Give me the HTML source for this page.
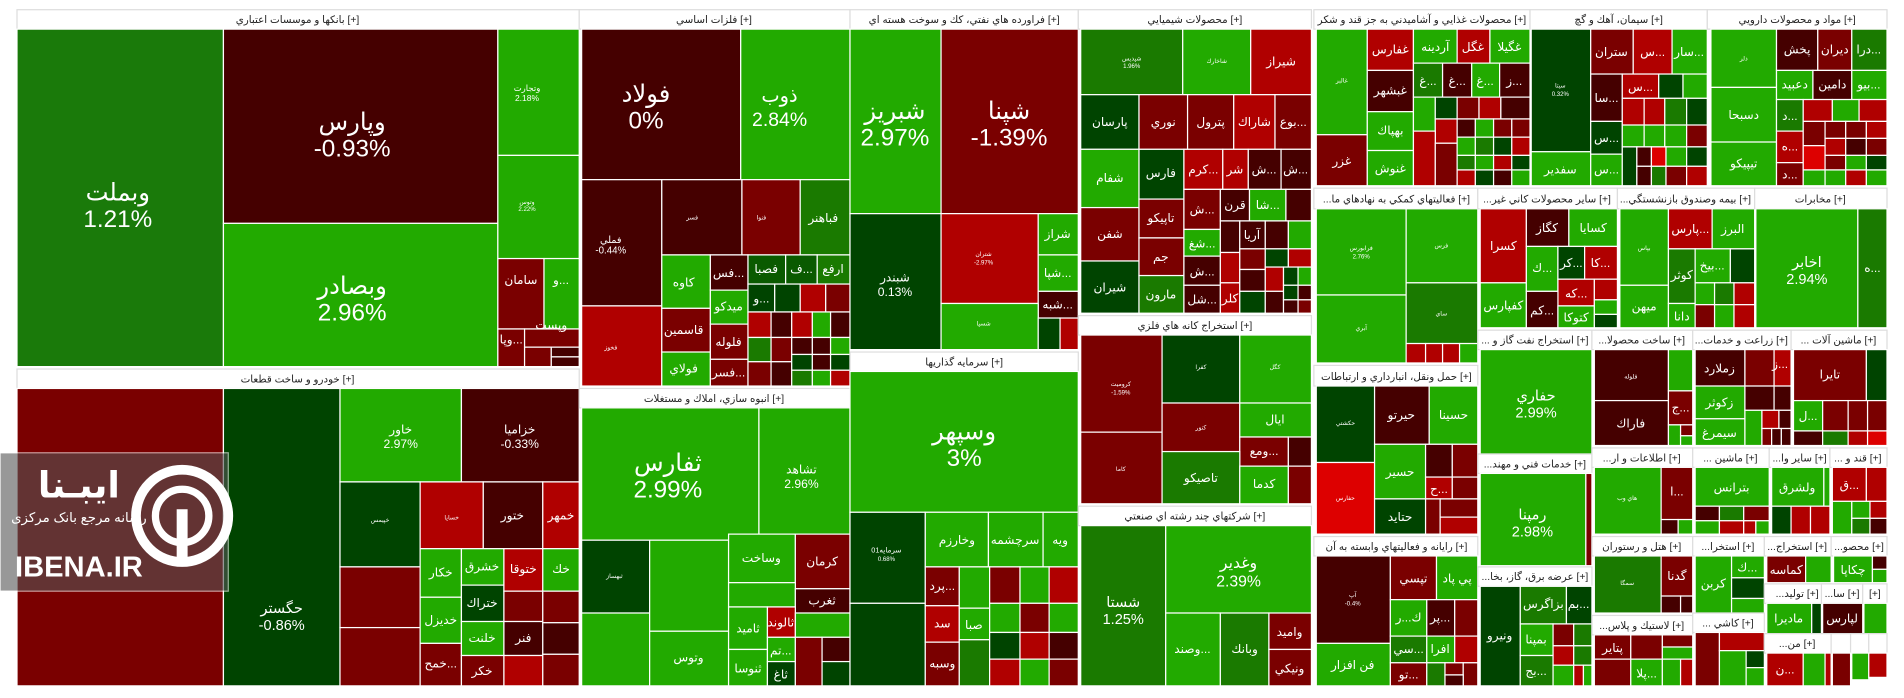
<!DOCTYPE html>
<html><head><meta charset="utf-8"><style>
html,body{margin:0;padding:0;background:#fff;width:1904px;height:698px;overflow:hidden}
svg{display:block}
text{font-family:"Liberation Sans","DejaVu Sans",sans-serif;fill:#fff;text-anchor:middle}
.h{fill:#222;font-size:8.5px}
rect{stroke:#fff;stroke-width:1}
.hd{fill:#fff;stroke:#ddd}
.L{font-size:20px}.m{font-size:10px}.s{font-size:5px}
</style></head><body>
<svg width="1904" height="698" viewBox="0 0 1568 575" preserveAspectRatio="none">
<rect x="0" y="0" width="1568" height="575" fill="#fff" stroke="none"/>
<!-- BANKS -->
<rect class="hd" x="14" y="8" width="463" height="16"/><text class="h" x="245" y="19">بانکها و موسسات اعتباري [+]</text>
<rect x="14" y="24" width="170" height="278" fill="#1a7a0a"/><text class="L" x="97" y="165">وبملت</text><text class="L" x="97" y="187">1.21%</text>
<rect x="184" y="24" width="226" height="160" fill="#450000"/><text class="L" x="290" y="107">وپارس</text><text class="L" x="290" y="129">-0.93%</text>
<rect x="184" y="184" width="226" height="118" fill="#22aa00"/><text class="L" x="290" y="242">وبصادر</text><text class="L" x="290" y="264">2.96%</text>
<rect x="410" y="24" width="67" height="104" fill="#22aa00"/><text class="s" x="434" y="75" style="font-size:7px">وتجارت</text><text class="s" x="434" y="83" style="font-size:7px">2.18%</text>
<rect x="410" y="128" width="67" height="85" fill="#22aa00"/><text class="s" x="434" y="168">وتوس</text><text class="s" x="434" y="174">2.22%</text>
<rect x="410" y="213" width="38" height="58" fill="#7a0000"/><text class="m" x="429" y="234">سامان</text>
<rect x="448" y="213" width="29" height="58" fill="#22aa00"/><text class="m" x="462" y="234">و...</text>
<rect x="410" y="271" width="22" height="31" fill="#7a0000"/><text class="m" x="421" y="283">وپا...</text>
<rect x="432" y="271" width="45" height="15" fill="#7a0000"/><text class="m" x="454" y="271">وپست</text>
<rect x="432" y="286" width="22" height="16" fill="#7a0000"/>
<rect x="454" y="286" width="23" height="8" fill="#450000"/><rect x="454" y="294" width="23" height="8" fill="#450000"/>
<!-- AUTO -->
<rect class="hd" x="14" y="304" width="463" height="16"/><text class="h" x="245" y="315">خودرو و ساخت قطعات [+]</text>
<rect x="14" y="320" width="170" height="245" fill="#7a0000"/>
<rect x="184" y="320" width="96" height="245" fill="#004400"/><text class="m" x="232" y="505" style="font-size:12px">حگستر</text><text class="m" x="232" y="519" style="font-size:12px">-0.86%</text>
<rect x="280" y="320" width="100" height="77" fill="#22aa00"/><text class="m" x="330" y="357">خاور</text><text class="m" x="330" y="369">2.97%</text>
<rect x="380" y="320" width="97" height="77" fill="#450000"/><text class="m" x="428" y="357">خزامیا</text><text class="m" x="428" y="369">-0.33%</text>
<rect x="280" y="397" width="66" height="70" fill="#004400"/><text class="s" x="313" y="430">خپیمس</text>
<rect x="346" y="397" width="52" height="55" fill="#b00000"/><text class="s" x="372" y="428">خساپا</text>
<rect x="398" y="397" width="49" height="55" fill="#450000"/><text class="m" x="422" y="428">ختور</text>
<rect x="447" y="397" width="30" height="55" fill="#b00000"/><text class="m" x="462" y="428">خمهر</text>
<rect x="280" y="467" width="66" height="50" fill="#7a0000"/><rect x="280" y="517" width="66" height="48" fill="#7a0000"/>
<rect x="346" y="452" width="34" height="40" fill="#22aa00"/><text class="m" x="363" y="475">خكار</text>
<rect x="346" y="492" width="34" height="38" fill="#22aa00"/><text class="m" x="363" y="514">خديزل</text>
<rect x="346" y="530" width="34" height="35" fill="#7a0000"/><text class="m" x="363" y="550">خمح...</text>
<rect x="380" y="452" width="35" height="30" fill="#22aa00"/><text class="m" x="397" y="470">خشرق</text>
<rect x="380" y="482" width="35" height="30" fill="#004400"/><text class="m" x="397" y="500">ختراك</text>
<rect x="380" y="512" width="35" height="28" fill="#22aa00"/><text class="m" x="397" y="529">خلنت</text>
<rect x="380" y="540" width="35" height="25" fill="#7a0000"/><text class="m" x="397" y="556">خكر</text>
<rect x="415" y="452" width="32" height="35" fill="#b00000"/><text class="m" x="431" y="472">ختوقا</text>
<rect x="415" y="487" width="32" height="25" fill="#7a0000"/>
<rect x="415" y="512" width="32" height="28" fill="#450000"/><text class="m" x="431" y="529">فنر</text>
<rect x="415" y="540" width="32" height="25" fill="#b00000"/>
<rect x="447" y="452" width="30" height="35" fill="#22aa00"/><text class="m" x="462" y="472">خك</text>
<rect x="447" y="487" width="30" height="26" fill="#7a0000"/><rect x="447" y="513" width="30" height="26" fill="#450000"/><rect x="447" y="539" width="30" height="26" fill="#7a0000"/>
<!-- watermark -->
<rect x="0" y="373" width="188" height="114" fill="#555" opacity="0.6" stroke="none"/>
<circle cx="150" cy="425" r="38" fill="none" stroke="#fff" stroke-width="8"/><circle cx="150" cy="425" r="22" fill="none" stroke="#fff" stroke-width="6"/><rect x="146" y="420" width="8" height="45" fill="#fff" stroke="none"/>
<text x="65" y="410" style="font-size:30px;font-weight:bold">ایبـنا</text>
<text x="65" y="430" style="font-size:11px">رسانه مرجع بانک مرکزی</text>
<text x="65" y="475" style="font-size:24px;font-weight:bold">IBENA.IR</text>
<!-- METALS -->
<rect class="hd" x="477" y="8" width="223" height="16"/><text class="h" x="588" y="19">فلزات اساسي [+]</text>
<rect x="479" y="24" width="131" height="124" fill="#450000"/><text class="L" x="532" y="84">فولاد</text><text class="L" x="532" y="106">0%</text>
<rect x="610" y="24" width="90" height="124" fill="#22aa00"/><text class="L" x="642" y="84" style="font-size:16px">ذوب</text><text class="L" x="642" y="104" style="font-size:16px">2.84%</text>
<rect x="479" y="148" width="66" height="104" fill="#450000"/><text class="m" x="503" y="200" style="font-size:8px">فملي</text><text class="m" x="503" y="209" style="font-size:8px">-0.44%</text>
<rect x="479" y="252" width="66" height="66" fill="#b00000"/><text class="s" x="503" y="288">فخوز</text>
<rect x="545" y="148" width="66" height="62" fill="#450000"/><text class="s" x="570" y="181">فسر</text>
<rect x="611" y="148" width="48" height="62" fill="#7a0000"/><text class="s" x="627" y="181">فنوا</text>
<rect x="659" y="148" width="41" height="62" fill="#1a7a00"/><text class="m" x="678" y="183">فباهنر</text>
<rect x="545" y="210" width="40" height="44" fill="#22aa00"/><text class="m" x="563" y="236">كاوه</text>
<rect x="545" y="254" width="40" height="36" fill="#7a0000"/><text class="m" x="563" y="275">قاسمين</text>
<rect x="545" y="290" width="40" height="28" fill="#22aa00"/><text class="m" x="563" y="307">فولاي</text>
<rect x="585" y="210" width="31" height="29" fill="#450000"/><text class="m" x="600" y="228">فس...</text>
<rect x="585" y="239" width="31" height="28" fill="#22aa00"/><text class="m" x="600" y="256">ميدكو</text>
<rect x="585" y="267" width="31" height="29" fill="#7a0000"/><text class="m" x="600" y="285">فلوله</text>
<rect x="585" y="296" width="31" height="22" fill="#7a0000"/><text class="m" x="600" y="310">فسر...</text>
<rect x="616" y="210" width="31" height="24" fill="#0a5a00"/><text class="m" x="631" y="225">فصبا</text>
<rect x="647" y="210" width="26" height="24" fill="#0a5a00"/><text class="m" x="660" y="225">ف...</text>
<rect x="673" y="210" width="27" height="24" fill="#1a7a00"/><text class="m" x="686" y="225">ارفع</text>
<rect x="616" y="234" width="22" height="23" fill="#004400"/><text class="m" x="627" y="249">و...</text>
<rect x="638" y="234" width="21" height="23" fill="#004400"/><rect x="659" y="234" width="21" height="23" fill="#b00000"/><rect x="680" y="234" width="20" height="23" fill="#7a0000"/>
<rect x="616" y="257" width="19" height="21" fill="#b00000"/><rect x="635" y="257" width="17" height="21" fill="#450000"/><rect x="652" y="257" width="17" height="21" fill="#b00000"/><rect x="669" y="257" width="15" height="21" fill="#22aa00"/><rect x="684" y="257" width="16" height="21" fill="#450000"/>
<rect x="616" y="278" width="19" height="20" fill="#1a7a00"/><rect x="635" y="278" width="17" height="20" fill="#7a0000"/><rect x="652" y="278" width="17" height="14" fill="#450000"/><rect x="669" y="278" width="15" height="14" fill="#450000"/><rect x="684" y="278" width="16" height="14" fill="#22aa00"/>
<rect x="616" y="298" width="19" height="20" fill="#7a0000"/><rect x="635" y="298" width="17" height="20" fill="#450000"/><rect x="652" y="292" width="17" height="13" fill="#004400"/><rect x="669" y="292" width="15" height="13" fill="#450000"/><rect x="684" y="292" width="16" height="13" fill="#004400"/>
<rect x="652" y="305" width="17" height="13" fill="#1a7a00"/><rect x="669" y="305" width="15" height="13" fill="#22aa00"/><rect x="684" y="305" width="16" height="13" fill="#b00000"/>
<!-- ANBOOH -->
<rect class="hd" x="477" y="320" width="223" height="16"/><text class="h" x="588" y="331">انبوه سازي، املاك و مستغلات [+]</text>
<rect x="479" y="336" width="146" height="109" fill="#22aa00"/><text class="L" x="550" y="388">ثفارس</text><text class="L" x="550" y="410">2.99%</text>
<rect x="625" y="336" width="75" height="104" fill="#22aa00"/><text class="m" x="660" y="390">تشاهد</text><text class="m" x="660" y="402">2.96%</text>
<rect x="479" y="445" width="56" height="60" fill="#004400"/><text class="s" x="506" y="476">ثبهساز</text>
<rect x="479" y="505" width="56" height="60" fill="#22aa00"/>
<rect x="535" y="445" width="65" height="75" fill="#22aa00"/><rect x="535" y="520" width="65" height="45" fill="#22aa00"/><text class="m" x="567" y="545">وتوس</text>
<rect x="600" y="440" width="55" height="40" fill="#22aa00"/><text class="m" x="627" y="463">وساخت</text>
<rect x="655" y="440" width="45" height="45" fill="#7a0000"/><text class="m" x="677" y="466">كرمان</text>
<rect x="600" y="480" width="55" height="20" fill="#22aa00"/>
<rect x="655" y="485" width="45" height="20" fill="#450000"/><text class="m" x="677" y="498">ثغرب</text>
<rect x="600" y="500" width="32" height="35" fill="#22aa00"/><text class="m" x="616" y="521">ثاميد</text>
<rect x="632" y="500" width="23" height="25" fill="#b00000"/><text class="m" x="643" y="516">ثالوند</text>
<rect x="655" y="505" width="45" height="20" fill="#22aa00"/>
<rect x="600" y="535" width="32" height="30" fill="#22aa00"/><text class="m" x="616" y="554">ثنوسا</text>
<rect x="632" y="525" width="23" height="20" fill="#22aa00"/><text class="m" x="643" y="539">تم...</text>
<rect x="632" y="545" width="23" height="20" fill="#004400"/><text class="m" x="643" y="559">ثاغ</text>
<rect x="655" y="525" width="22" height="40" fill="#7a0000"/><rect x="677" y="525" width="23" height="20" fill="#450000"/><rect x="677" y="545" width="23" height="20" fill="#004400"/>
<!-- REFINERY -->
<rect class="hd" x="700" y="8" width="188" height="16"/><text class="h" x="794" y="19">فراورده هاي نفتي، كك و سوخت هسته اي [+]</text>
<rect x="700" y="24" width="75" height="152" fill="#22aa00"/><text class="L" x="737" y="98">شبريز</text><text class="L" x="737" y="120">2.97%</text>
<rect x="775" y="24" width="113" height="152" fill="#7a0000"/><text class="L" x="831" y="98">شپنا</text><text class="L" x="831" y="120">-1.39%</text>
<rect x="700" y="176" width="75" height="112" fill="#004400"/><text class="m" x="737" y="232">شبندر</text><text class="m" x="737" y="244">0.13%</text>
<rect x="775" y="176" width="80" height="74" fill="#b00000"/><text class="s" x="810" y="211">شتران</text><text class="s" x="810" y="218">-2.97%</text>
<rect x="855" y="176" width="33" height="34" fill="#22aa00"/><text class="m" x="871" y="196">شراز</text>
<rect x="855" y="210" width="33" height="30" fill="#22aa00"/><text class="m" x="871" y="228">شپا...</text>
<rect x="855" y="240" width="33" height="22" fill="#450000"/><text class="m" x="871" y="254">شبه...</text>
<rect x="775" y="250" width="80" height="38" fill="#22aa00"/><text class="s" x="810" y="268">شسپا</text>
<rect x="855" y="262" width="18" height="26" fill="#004400"/><rect x="873" y="262" width="15" height="26" fill="#b00000"/>
<!-- INVEST -->
<rect class="hd" x="700" y="290" width="188" height="16"/><text class="h" x="794" y="301">سرمايه گذاريها [+]</text>
<rect x="700" y="306" width="188" height="116" fill="#22aa00"/><text class="L" x="794" y="362">وسپهر</text><text class="L" x="794" y="384">3%</text>
<rect x="700" y="422" width="62" height="75" fill="#004400"/><text class="s" x="730" y="455" style="font-size:6px">سرمايه01</text><text class="s" x="730" y="462">0.68%</text>
<rect x="700" y="497" width="62" height="68" fill="#004400"/>
<rect x="762" y="422" width="52" height="45" fill="#22aa00"/><text class="m" x="788" y="448">وخارزم</text>
<rect x="814" y="422" width="45" height="45" fill="#22aa00"/><text class="m" x="836" y="448">سرچشمه</text>
<rect x="859" y="422" width="29" height="45" fill="#22aa00"/><text class="m" x="873" y="448">ويه</text>
<rect x="762" y="467" width="28" height="32" fill="#7a0000"/><text class="m" x="776" y="486">پرد...</text>
<rect x="762" y="499" width="28" height="30" fill="#b00000"/><text class="m" x="776" y="517">سد</text>
<rect x="762" y="529" width="28" height="36" fill="#7a0000"/><text class="m" x="776" y="550">وسبه</text>
<rect x="790" y="467" width="25" height="34" fill="#22aa00"/><rect x="790" y="501" width="25" height="26" fill="#22aa00"/><text class="m" x="802" y="518">صبا</text>
<rect x="790" y="527" width="25" height="38" fill="#1a7a00"/>
<rect x="815" y="467" width="25" height="30" fill="#7a0000"/><rect x="840" y="467" width="24" height="30" fill="#22aa00"/><rect x="864" y="467" width="24" height="30" fill="#b00000"/>
<rect x="815" y="497" width="25" height="24" fill="#22aa00"/><rect x="840" y="497" width="24" height="24" fill="#7a0000"/><rect x="864" y="497" width="24" height="24" fill="#22aa00"/>
<rect x="815" y="521" width="25" height="22" fill="#004400"/><rect x="840" y="521" width="24" height="22" fill="#b00000"/><rect x="864" y="521" width="24" height="22" fill="#450000"/>
<rect x="815" y="543" width="25" height="22" fill="#b00000"/><rect x="840" y="543" width="24" height="22" fill="#22aa00"/><rect x="864" y="543" width="24" height="22" fill="#7a0000"/>
<!-- CHEMICAL -->
<rect class="hd" x="888" y="8" width="192" height="16"/><text class="h" x="984" y="19">محصولات شيميايي [+]</text>
<rect x="890" y="24" width="84" height="54" fill="#1a7a00"/><text class="s" x="932" y="50">شپديس</text><text class="s" x="932" y="56">1.96%</text>
<rect x="974" y="24" width="56" height="54" fill="#22aa00"/><text class="s" x="1002" y="52">شاخارك</text>
<rect x="1030" y="24" width="50" height="54" fill="#b00000"/><text class="m" x="1055" y="54">شيراز</text>
<rect x="890" y="78" width="48" height="45" fill="#004400"/><text class="m" x="914" y="104">پارسان</text>
<rect x="938" y="78" width="40" height="45" fill="#7a0000"/><text class="m" x="958" y="104">نوري</text>
<rect x="978" y="78" width="38" height="45" fill="#7a0000"/><text class="m" x="997" y="104">پترول</text>
<rect x="1016" y="78" width="34" height="45" fill="#b00000"/><text class="m" x="1033" y="104">شاراك</text>
<rect x="1050" y="78" width="30" height="45" fill="#7a0000"/><text class="m" x="1065" y="104">بوع...</text>
<rect x="890" y="123" width="48" height="48" fill="#22aa00"/><text class="m" x="914" y="150">شفام</text>
<rect x="938" y="123" width="37" height="41" fill="#004400"/><text class="m" x="956" y="146">فارس</text>
<rect x="975" y="123" width="32" height="33" fill="#b00000"/><text class="m" x="991" y="143">كرم...</text>
<rect x="1007" y="123" width="21" height="33" fill="#b00000"/><text class="m" x="1017" y="143">شر</text>
<rect x="1028" y="123" width="27" height="33" fill="#450000"/><text class="m" x="1041" y="143">ش...</text>
<rect x="1055" y="123" width="25" height="33" fill="#450000"/><text class="m" x="1067" y="143">ش...</text>
<rect x="890" y="171" width="48" height="44" fill="#7a0000"/><text class="m" x="914" y="196">شفن</text>
<rect x="890" y="215" width="48" height="43" fill="#004400"/><text class="m" x="914" y="240">شيران</text>
<rect x="938" y="164" width="37" height="32" fill="#7a0000"/><text class="m" x="956" y="183">تاپيكو</text>
<rect x="938" y="196" width="37" height="31" fill="#7a0000"/><text class="m" x="956" y="215">جم</text>
<rect x="938" y="227" width="37" height="31" fill="#1a7a00"/><text class="m" x="956" y="246">مارون</text>
<rect x="975" y="156" width="30" height="33" fill="#7a0000"/><text class="m" x="990" y="176">ش...</text>
<rect x="1005" y="156" width="24" height="26" fill="#450000"/><text class="m" x="1017" y="172">قرن</text>
<rect x="1029" y="156" width="30" height="26" fill="#22aa00"/><text class="m" x="1044" y="172">شا...</text>
<rect x="1059" y="156" width="21" height="26" fill="#450000"/>
<rect x="975" y="189" width="30" height="22" fill="#22aa00"/><text class="m" x="990" y="204">شغ...</text>
<rect x="1005" y="182" width="16" height="26" fill="#450000"/><rect x="1021" y="182" width="21" height="23" fill="#450000"/><text class="m" x="1031" y="197">آريا</text>
<rect x="1042" y="182" width="19" height="23" fill="#450000"/><rect x="1061" y="182" width="19" height="23" fill="#22aa00"/>
<rect x="975" y="211" width="30" height="24" fill="#450000"/><text class="m" x="990" y="227">ش...</text>
<rect x="975" y="235" width="30" height="23" fill="#450000"/><text class="m" x="990" y="250">شل...</text>
<rect x="1005" y="208" width="16" height="25" fill="#b00000"/><rect x="1005" y="233" width="16" height="25" fill="#b00000"/><text class="m" x="1013" y="249">كلر</text>
<rect x="1021" y="205" width="21" height="17" fill="#7a0000"/><rect x="1042" y="205" width="19" height="15" fill="#004400"/><rect x="1061" y="205" width="19" height="15" fill="#b00000"/>
<rect x="1021" y="222" width="21" height="18" fill="#450000"/><rect x="1042" y="220" width="15" height="20" fill="#b00000"/><rect x="1057" y="220" width="12" height="15" fill="#004400"/><rect x="1069" y="220" width="11" height="15" fill="#22aa00"/>
<rect x="1021" y="240" width="21" height="18" fill="#004400"/><rect x="1042" y="240" width="15" height="18" fill="#450000"/><rect x="1057" y="235" width="12" height="12" fill="#004400"/><rect x="1069" y="235" width="11" height="12" fill="#450000"/><rect x="1057" y="247" width="12" height="11" fill="#450000"/><rect x="1069" y="247" width="11" height="11" fill="#7a0000"/>
<!-- KANE -->
<rect class="hd" x="888" y="260" width="192" height="16"/><text class="h" x="984" y="271">استخراج كانه هاي فلزي [+]</text>
<rect x="890" y="276" width="67" height="80" fill="#7a0000"/><text class="s" x="923" y="318">كروميت</text><text class="s" x="923" y="325">-1.59%</text>
<rect x="890" y="356" width="67" height="59" fill="#7a0000"/><text class="s" x="923" y="388">كاما</text>
<rect x="957" y="276" width="64" height="56" fill="#004400"/><text class="s" x="989" y="304">كفرا</text>
<rect x="1021" y="276" width="59" height="56" fill="#22aa00"/><text class="s" x="1050" y="304">كگل</text>
<rect x="957" y="332" width="64" height="40" fill="#7a0000"/><text class="s" x="989" y="354">كنور</text>
<rect x="1021" y="332" width="59" height="28" fill="#22aa00"/><text class="m" x="1050" y="349">ايال</text>
<rect x="1021" y="360" width="40" height="24" fill="#7a0000"/><text class="m" x="1041" y="375">ومع...</text>
<rect x="1061" y="360" width="19" height="24" fill="#450000"/>
<rect x="957" y="372" width="64" height="43" fill="#1a7a00"/><text class="m" x="989" y="397">تاصيكو</text>
<rect x="1021" y="384" width="40" height="31" fill="#22aa00"/><text class="m" x="1041" y="402">كدما</text><rect x="1061" y="384" width="19" height="31" fill="#7a0000"/>
<!-- CHAND -->
<rect class="hd" x="888" y="417" width="192" height="16"/><text class="h" x="984" y="428">شركتهاي چند رشته اي صنعتي [+]</text>
<rect x="890" y="433" width="70" height="132" fill="#1a7a00"/><text class="m" x="925" y="500" style="font-size:12px">شستا</text><text class="m" x="925" y="514" style="font-size:12px">1.25%</text>
<rect x="960" y="433" width="120" height="72" fill="#22aa00"/><text class="m" x="1020" y="468" style="font-size:13px">وغدير</text><text class="m" x="1020" y="483" style="font-size:13px">2.39%</text>
<rect x="960" y="505" width="45" height="60" fill="#22aa00"/><text class="m" x="982" y="538">وصند...</text>
<rect x="1005" y="505" width="40" height="60" fill="#1a7a00"/><text class="m" x="1025" y="538">وبانك</text>
<rect x="1045" y="505" width="35" height="30" fill="#7a0000"/><text class="m" x="1062" y="524">واميد</text>
<rect x="1045" y="535" width="35" height="30" fill="#7a0000"/><text class="m" x="1062" y="554">ونيكي</text>
<!-- FOOD -->
<rect class="hd" x="1082" y="8" width="178" height="16"/><text class="h" x="1171" y="19">محصولات غذايي و آشاميدني به جز قند و شكر [+]</text>
<rect x="1084" y="24" width="42" height="87" fill="#22aa00"/><text class="s" x="1105" y="68">غالبر</text>
<rect x="1084" y="111" width="42" height="42" fill="#7a0000"/><text class="m" x="1105" y="136">غزر</text>
<rect x="1126" y="24" width="38" height="34" fill="#b00000"/><text class="m" x="1145" y="44">غفارس</text>
<rect x="1126" y="58" width="38" height="34" fill="#450000"/><text class="m" x="1145" y="78">غبشهر</text>
<rect x="1126" y="92" width="38" height="32" fill="#22aa00"/><text class="m" x="1145" y="111">بهپاك</text>
<rect x="1126" y="124" width="38" height="29" fill="#22aa00"/><text class="m" x="1145" y="142">غنوش</text>
<rect x="1164" y="24" width="36" height="28" fill="#22aa00"/><text class="m" x="1182" y="42">آردينه</text>
<rect x="1200" y="24" width="27" height="28" fill="#b00000"/><text class="m" x="1213" y="42">غگل</text>
<rect x="1227" y="24" width="33" height="28" fill="#22aa00"/><text class="m" x="1243" y="42">غگيلا</text>
<rect x="1164" y="52" width="24" height="28" fill="#1a7a00"/><text class="m" x="1176" y="70">غ...</text>
<rect x="1188" y="52" width="24" height="28" fill="#450000"/><text class="m" x="1200" y="70">غ...</text>
<rect x="1212" y="52" width="23" height="28" fill="#22aa00"/><text class="m" x="1223" y="70">غ...</text>
<rect x="1235" y="52" width="25" height="28" fill="#450000"/><text class="m" x="1247" y="70">ز...</text>
<rect x="1164" y="80" width="18" height="28" fill="#22aa00"/><rect x="1182" y="80" width="18" height="18" fill="#004400"/><rect x="1200" y="80" width="18" height="18" fill="#7a0000"/><rect x="1218" y="80" width="18" height="18" fill="#b00000"/><rect x="1236" y="80" width="24" height="18" fill="#450000"/>
<rect x="1182" y="98" width="18" height="20" fill="#b00000"/><rect x="1200" y="98" width="15" height="15" fill="#450000"/><rect x="1215" y="98" width="15" height="15" fill="#22aa00"/><rect x="1230" y="98" width="15" height="15" fill="#7a0000"/><rect x="1245" y="98" width="15" height="15" fill="#7a0000"/>
<rect x="1164" y="108" width="18" height="45" fill="#b00000"/><rect x="1182" y="118" width="18" height="35" fill="#7a0000"/>
<rect x="1200" y="113" width="15" height="15" fill="#22aa00"/><rect x="1215" y="113" width="15" height="15" fill="#1a7a00"/><rect x="1230" y="113" width="15" height="15" fill="#004400"/><rect x="1245" y="113" width="15" height="15" fill="#b00000"/>
<rect x="1200" y="128" width="15" height="12" fill="#1a7a00"/><rect x="1215" y="128" width="15" height="12" fill="#22aa00"/><rect x="1230" y="128" width="15" height="12" fill="#b00000"/><rect x="1245" y="128" width="15" height="12" fill="#004400"/>
<rect x="1200" y="140" width="15" height="13" fill="#b00000"/><rect x="1215" y="140" width="15" height="13" fill="#004400"/><rect x="1230" y="140" width="15" height="13" fill="#450000"/><rect x="1245" y="140" width="15" height="13" fill="#22aa00"/>
<!-- CEMENT -->
<rect class="hd" x="1260" y="8" width="146" height="16"/><text class="h" x="1333" y="19">سيمان، آهك و گچ [+]</text>
<rect x="1261" y="24" width="49" height="101" fill="#004400"/><text class="s" x="1285" y="72">سيتا</text><text class="s" x="1285" y="79">0.32%</text>
<rect x="1261" y="125" width="49" height="28" fill="#22aa00"/><text class="m" x="1285" y="143">سفدير</text>
<rect x="1310" y="24" width="35" height="37" fill="#7a0000"/><text class="m" x="1327" y="46">ستران</text>
<rect x="1345" y="24" width="32" height="37" fill="#b00000"/><text class="m" x="1361" y="46">س...</text>
<rect x="1377" y="24" width="29" height="37" fill="#22aa00"/><text class="m" x="1391" y="46">سار...</text>
<rect x="1310" y="61" width="26" height="39" fill="#450000"/><text class="m" x="1323" y="84">سا...</text>
<rect x="1310" y="100" width="26" height="27" fill="#004400"/><text class="m" x="1323" y="117">س...</text>
<rect x="1310" y="127" width="26" height="26" fill="#22aa00"/><text class="m" x="1323" y="143">س...</text>
<rect x="1336" y="61" width="30" height="20" fill="#b00000"/><text class="m" x="1351" y="75">س...</text>
<rect x="1366" y="61" width="20" height="20" fill="#004400"/><rect x="1386" y="61" width="20" height="20" fill="#22aa00"/>
<rect x="1336" y="81" width="18" height="22" fill="#b00000"/><rect x="1354" y="81" width="17" height="22" fill="#b00000"/><rect x="1371" y="81" width="18" height="22" fill="#1a7a00"/><rect x="1389" y="81" width="17" height="22" fill="#004400"/>
<rect x="1336" y="103" width="18" height="18" fill="#22aa00"/><rect x="1354" y="103" width="17" height="18" fill="#22aa00"/><rect x="1371" y="103" width="18" height="18" fill="#22aa00"/><rect x="1389" y="103" width="17" height="18" fill="#7a0000"/>
<rect x="1336" y="121" width="12" height="32" fill="#004400"/><rect x="1348" y="121" width="12" height="16" fill="#450000"/><rect x="1360" y="121" width="12" height="16" fill="#dd0000"/><rect x="1372" y="121" width="17" height="16" fill="#22aa00"/><rect x="1389" y="121" width="17" height="16" fill="#004400"/>
<rect x="1348" y="137" width="12" height="16" fill="#450000"/><rect x="1360" y="137" width="12" height="16" fill="#1a7a00"/><rect x="1372" y="137" width="17" height="16" fill="#7a0000"/><rect x="1389" y="137" width="17" height="16" fill="#b00000"/>
<!-- PHARMA -->
<rect class="hd" x="1406" y="8" width="148" height="16"/><text class="h" x="1480" y="19">مواد و محصولات دارويي [+]</text>
<rect x="1409" y="24" width="54" height="48" fill="#22aa00"/><text class="s" x="1436" y="50">دلر</text>
<rect x="1409" y="72" width="54" height="45" fill="#22aa00"/><text class="m" x="1436" y="98">دسبحا</text>
<rect x="1409" y="117" width="54" height="36" fill="#22aa00"/><text class="m" x="1436" y="138">تيپيكو</text>
<rect x="1463" y="24" width="34" height="34" fill="#450000"/><text class="m" x="1480" y="44">پخش</text>
<rect x="1497" y="24" width="28" height="34" fill="#7a0000"/><text class="m" x="1511" y="44">ديران</text>
<rect x="1525" y="24" width="29" height="34" fill="#1a7a00"/><text class="m" x="1539" y="44">درا...</text>
<rect x="1463" y="58" width="30" height="24" fill="#22aa00"/><text class="m" x="1478" y="73">دعبيد</text>
<rect x="1493" y="58" width="32" height="24" fill="#450000"/><text class="m" x="1509" y="73">دامين</text>
<rect x="1525" y="58" width="29" height="24" fill="#22aa00"/><text class="m" x="1539" y="73">بيو...</text>
<rect x="1463" y="82" width="22" height="26" fill="#1a7a00"/><text class="m" x="1474" y="99">د...</text>
<rect x="1485" y="82" width="24" height="18" fill="#b00000"/><rect x="1509" y="82" width="22" height="18" fill="#22aa00"/><rect x="1531" y="82" width="23" height="18" fill="#b00000"/>
<rect x="1463" y="108" width="22" height="26" fill="#b00000"/><text class="m" x="1474" y="124">ه...</text>
<rect x="1463" y="134" width="22" height="19" fill="#7a0000"/><text class="m" x="1474" y="147">د...</text>
<rect x="1485" y="100" width="18" height="20" fill="#7a0000"/><rect x="1503" y="100" width="17" height="14" fill="#7a0000"/><rect x="1520" y="100" width="17" height="14" fill="#7a0000"/><rect x="1537" y="100" width="17" height="14" fill="#b00000"/>
<rect x="1485" y="120" width="18" height="20" fill="#dd0000"/><rect x="1503" y="114" width="17" height="14" fill="#b00000"/><rect x="1520" y="114" width="17" height="14" fill="#450000"/><rect x="1537" y="114" width="17" height="14" fill="#7a0000"/>
<rect x="1485" y="140" width="18" height="13" fill="#22aa00"/><rect x="1503" y="128" width="17" height="12" fill="#7a0000"/><rect x="1520" y="128" width="17" height="12" fill="#22aa00"/><rect x="1537" y="128" width="17" height="12" fill="#004400"/>
<rect x="1503" y="140" width="17" height="13" fill="#22aa00"/><rect x="1520" y="140" width="17" height="13" fill="#b00000"/><rect x="1537" y="140" width="17" height="13" fill="#22aa00"/>
<!-- MIDDLE ROW -->
<rect class="hd" x="1082" y="155" width="135" height="17"/><text class="h" x="1150" y="167">...فعاليتهاي كمكي به نهادهاي ما [+]</text>
<rect x="1084" y="172" width="74" height="71" fill="#22aa00"/><text class="s" x="1121" y="206">فرابورس</text><text class="s" x="1121" y="213">2.76%</text>
<rect x="1084" y="243" width="74" height="56" fill="#22aa00"/><text class="s" x="1121" y="272">آبري</text>
<rect x="1158" y="172" width="59" height="61" fill="#22aa00"/><text class="s" x="1187" y="204">فرس</text>
<rect x="1158" y="233" width="59" height="50" fill="#1a7a00"/><text class="s" x="1187" y="260">ساي</text>
<rect x="1158" y="283" width="16" height="16" fill="#b00000"/><rect x="1174" y="283" width="14" height="16" fill="#b00000"/><rect x="1188" y="283" width="14" height="16" fill="#b00000"/><rect x="1202" y="283" width="15" height="16" fill="#22aa00"/>
<rect class="hd" x="1217" y="155" width="115" height="17"/><text class="h" x="1274" y="167">...ساير محصولات كاني غير [+]</text>
<rect x="1219" y="172" width="38" height="61" fill="#b00000"/><text class="m" x="1238" y="206">كسرا</text>
<rect x="1219" y="233" width="38" height="37" fill="#22aa00"/><text class="m" x="1238" y="255">كفپارس</text>
<rect x="1257" y="172" width="35" height="31" fill="#450000"/><text class="m" x="1274" y="191">كگاز</text>
<rect x="1292" y="172" width="40" height="31" fill="#22aa00"/><text class="m" x="1312" y="191">كسايا</text>
<rect x="1257" y="203" width="26" height="37" fill="#22aa00"/><text class="m" x="1270" y="224">ك...</text>
<rect x="1283" y="203" width="22" height="27" fill="#004400"/><text class="m" x="1294" y="220">كر...</text>
<rect x="1305" y="203" width="27" height="27" fill="#b00000"/><text class="m" x="1318" y="220">كا...</text>
<rect x="1283" y="230" width="30" height="22" fill="#b00000"/><text class="m" x="1298" y="245">كه...</text>
<rect x="1313" y="230" width="19" height="17" fill="#b00000"/>
<rect x="1257" y="240" width="26" height="30" fill="#450000"/><text class="m" x="1270" y="259">كم...</text>
<rect x="1283" y="252" width="30" height="18" fill="#22aa00"/><text class="m" x="1298" y="265">كتوكا</text>
<rect x="1313" y="247" width="19" height="12" fill="#22aa00"/><rect x="1313" y="259" width="19" height="11" fill="#004400"/>
<rect class="hd" x="1332" y="155" width="113" height="17"/><text class="h" x="1388" y="167">...بيمه وصندوق بازنشستگي [+]</text>
<rect x="1334" y="172" width="40" height="63" fill="#22aa00"/><text class="s" x="1354" y="206">بپاس</text>
<rect x="1334" y="235" width="40" height="35" fill="#22aa00"/><text class="m" x="1354" y="256">ميهن</text>
<rect x="1374" y="172" width="36" height="33" fill="#b00000"/><text class="m" x="1392" y="192">پارس...</text>
<rect x="1410" y="172" width="35" height="33" fill="#22aa00"/><text class="m" x="1427" y="192">البرز</text>
<rect x="1374" y="205" width="22" height="45" fill="#1a7a00"/><text class="m" x="1385" y="230">كوثر</text>
<rect x="1396" y="205" width="29" height="28" fill="#22aa00"/><text class="m" x="1410" y="222">بيخ...</text>
<rect x="1425" y="205" width="20" height="28" fill="#004400"/>
<rect x="1374" y="250" width="22" height="20" fill="#22aa00"/><text class="m" x="1385" y="264">دانا</text>
<rect x="1396" y="233" width="16" height="18" fill="#22aa00"/><rect x="1412" y="233" width="16" height="18" fill="#1a7a00"/><rect x="1428" y="233" width="17" height="18" fill="#b00000"/>
<rect x="1396" y="251" width="16" height="19" fill="#7a0000"/><rect x="1412" y="251" width="16" height="19" fill="#22aa00"/><rect x="1428" y="251" width="17" height="19" fill="#b00000"/>
<rect class="hd" x="1445" y="155" width="109" height="17"/><text class="h" x="1499" y="167">مخابرات [+]</text>
<rect x="1446" y="172" width="84" height="98" fill="#22aa00"/><text class="m" x="1488" y="220" style="font-size:12px">اخابر</text><text class="m" x="1488" y="234" style="font-size:12px">2.94%</text>
<rect x="1530" y="172" width="24" height="98" fill="#1a7a00"/><text class="m" x="1542" y="224">ه...</text>
<!-- HAML -->
<rect class="hd" x="1082" y="301" width="135" height="17"/><text class="h" x="1150" y="313">حمل ونقل، انبارداري و ارتباطات [+]</text>
<rect x="1084" y="318" width="48" height="63" fill="#004400"/><text class="s" x="1108" y="350">حكشتي</text>
<rect x="1132" y="318" width="45" height="48" fill="#450000"/><text class="m" x="1154" y="345">حيرتو</text>
<rect x="1177" y="318" width="40" height="48" fill="#22aa00"/><text class="m" x="1197" y="345">حسينا</text>
<rect x="1084" y="381" width="48" height="59" fill="#dd0000"/><text class="s" x="1108" y="412">حفارس</text>
<rect x="1132" y="366" width="42" height="45" fill="#22aa00"/><text class="m" x="1153" y="392">حسير</text>
<rect x="1132" y="411" width="42" height="29" fill="#004400"/><text class="m" x="1153" y="429">حتايد</text>
<rect x="1174" y="366" width="22" height="27" fill="#450000"/><rect x="1196" y="366" width="21" height="27" fill="#7a0000"/>
<rect x="1174" y="393" width="22" height="18" fill="#b00000"/><text class="m" x="1185" y="406">ح...</text><rect x="1196" y="393" width="21" height="18" fill="#7a0000"/>
<rect x="1174" y="411" width="12" height="29" fill="#7a0000"/><rect x="1186" y="411" width="31" height="15" fill="#7a0000"/><rect x="1186" y="426" width="31" height="14" fill="#b00000"/>
<rect class="hd" x="1082" y="442" width="135" height="16"/><text class="h" x="1150" y="453">رايانه و فعاليتهاي وابسته به آن [+]</text>
<rect x="1084" y="458" width="61" height="72" fill="#450000"/><text class="s" x="1114" y="492">آپ</text><text class="s" x="1114" y="499">-0.4%</text>
<rect x="1084" y="530" width="61" height="35" fill="#22aa00"/><text class="m" x="1114" y="551">فن افزار</text>
<rect x="1145" y="458" width="38" height="36" fill="#7a0000"/><text class="m" x="1164" y="480">تپسي</text>
<rect x="1183" y="458" width="34" height="36" fill="#22aa00"/><text class="m" x="1200" y="480">پي پاد</text>
<rect x="1145" y="494" width="30" height="30" fill="#22aa00"/><text class="m" x="1160" y="512">ك...ر</text>
<rect x="1175" y="494" width="23" height="30" fill="#450000"/><text class="m" x="1186" y="512">پر...</text>
<rect x="1198" y="494" width="19" height="30" fill="#7a0000"/>
<rect x="1145" y="524" width="30" height="22" fill="#1a7a00"/><text class="m" x="1160" y="538">سي...</text>
<rect x="1175" y="524" width="23" height="22" fill="#22aa00"/><text class="m" x="1186" y="538">افرا</text>
<rect x="1198" y="524" width="19" height="22" fill="#b00000"/>
<rect x="1145" y="546" width="30" height="19" fill="#7a0000"/><text class="m" x="1160" y="559">تو...</text>
<rect x="1175" y="546" width="15" height="19" fill="#1a7a00"/><rect x="1190" y="546" width="15" height="10" fill="#7a0000"/><rect x="1205" y="546" width="12" height="19" fill="#7a0000"/><rect x="1190" y="556" width="15" height="9" fill="#450000"/>
<!-- LOWER RIGHT -->
<rect class="hd" x="1217" y="272" width="94" height="16"/><text class="h" x="1264" y="283">... استخراج نفت گاز و [+]</text>
<rect x="1219" y="288" width="92" height="86" fill="#22aa00"/><text class="m" x="1265" y="330" style="font-size:12px">حفاري</text><text class="m" x="1265" y="344" style="font-size:12px">2.99%</text>
<rect class="hd" x="1217" y="374" width="94" height="16"/><text class="h" x="1264" y="385">...خدمات فني و مهند [+]</text>
<rect x="1219" y="390" width="87" height="76" fill="#22aa00"/><text class="m" x="1262" y="428" style="font-size:12px">رمپنا</text><text class="m" x="1262" y="442" style="font-size:12px">2.98%</text>
<rect x="1306" y="390" width="5" height="76" fill="#7a0000"/>
<rect class="hd" x="1217" y="467" width="94" height="16"/><text class="h" x="1264" y="478">...عرضه برق، گاز، بخا [+]</text>
<rect x="1219" y="483" width="33" height="82" fill="#004400"/><text class="m" x="1235" y="527">ونيرو</text>
<rect x="1252" y="483" width="38" height="31" fill="#1a7a00"/><text class="m" x="1271" y="501">بزاگرس</text>
<rect x="1290" y="483" width="21" height="31" fill="#004400"/><text class="m" x="1300" y="501">بم...</text>
<rect x="1252" y="514" width="27" height="26" fill="#22aa00"/><text class="m" x="1265" y="530">بمپنا</text>
<rect x="1252" y="540" width="27" height="25" fill="#1a7a00"/><text class="m" x="1265" y="556">بج...</text>
<rect x="1279" y="514" width="17" height="18" fill="#7a0000"/><rect x="1296" y="514" width="15" height="18" fill="#1a7a00"/>
<rect x="1279" y="532" width="17" height="16" fill="#b00000"/><rect x="1296" y="532" width="15" height="16" fill="#1a7a00"/>
<rect x="1279" y="548" width="17" height="17" fill="#22aa00"/><rect x="1296" y="548" width="8" height="17" fill="#b00000"/><rect x="1304" y="548" width="7" height="17" fill="#22aa00"/>
<rect class="hd" x="1311" y="272" width="83" height="16"/><text class="h" x="1352" y="283">...ساخت محصولا [+]</text>
<rect x="1313" y="288" width="61" height="42" fill="#450000"/><text class="s" x="1343" y="312">فلوله</text>
<rect x="1374" y="288" width="20" height="34" fill="#22aa00"/>
<rect x="1313" y="330" width="61" height="37" fill="#450000"/><text class="m" x="1343" y="352">فاراك</text>
<rect x="1374" y="322" width="20" height="28" fill="#7a0000"/><text class="m" x="1384" y="339">ج...</text>
<rect x="1374" y="350" width="10" height="17" fill="#22aa00"/><rect x="1384" y="350" width="10" height="9" fill="#7a0000"/><rect x="1384" y="359" width="10" height="8" fill="#22aa00"/>
<rect class="hd" x="1394" y="272" width="81" height="16"/><text class="h" x="1434" y="283">...زراعت و خدمات [+]</text>
<rect x="1396" y="288" width="41" height="30" fill="#450000"/><text class="m" x="1416" y="307">زملارد</text>
<rect x="1437" y="288" width="24" height="30" fill="#7a0000"/><rect x="1461" y="288" width="14" height="30" fill="#b00000"/><text class="m" x="1466" y="303">ز...</text>
<rect x="1396" y="318" width="41" height="27" fill="#22aa00"/><text class="m" x="1416" y="335">زكوثر</text>
<rect x="1396" y="345" width="41" height="22" fill="#22aa00"/><text class="m" x="1416" y="360">سيمرغ</text>
<rect x="1437" y="318" width="24" height="20" fill="#450000"/><rect x="1461" y="318" width="14" height="20" fill="#450000"/>
<rect x="1437" y="338" width="14" height="29" fill="#22aa00"/><rect x="1451" y="338" width="14" height="15" fill="#b00000"/><rect x="1465" y="338" width="10" height="15" fill="#450000"/>
<rect x="1451" y="353" width="8" height="14" fill="#7a0000"/><rect x="1459" y="353" width="8" height="14" fill="#450000"/><rect x="1467" y="353" width="8" height="14" fill="#450000"/>
<rect class="hd" x="1475" y="272" width="79" height="16"/><text class="h" x="1514" y="283">... ماشين آلات [+]</text>
<rect x="1477" y="288" width="60" height="42" fill="#7a0000"/><text class="m" x="1507" y="312">تايرا</text>
<rect x="1537" y="288" width="17" height="42" fill="#004400"/>
<rect x="1477" y="330" width="24" height="25" fill="#22aa00"/><text class="m" x="1489" y="346">ل...</text>
<rect x="1501" y="330" width="21" height="25" fill="#7a0000"/><rect x="1522" y="330" width="16" height="25" fill="#7a0000"/><rect x="1538" y="330" width="16" height="25" fill="#7a0000"/>
<rect x="1477" y="355" width="24" height="12" fill="#450000"/><rect x="1501" y="355" width="21" height="12" fill="#1a7a00"/><rect x="1522" y="355" width="16" height="12" fill="#b00000"/><rect x="1538" y="355" width="16" height="12" fill="#dd0000"/>
<rect class="hd" x="1311" y="369" width="83" height="16"/><text class="h" x="1352" y="380">...اطلاعات و ار [+]</text>
<rect x="1313" y="385" width="55" height="55" fill="#22aa00"/><text class="s" x="1340" y="412">هاي وب</text>
<rect x="1368" y="385" width="26" height="43" fill="#7a0000"/><text class="m" x="1381" y="408">ا...</text>
<rect x="1368" y="428" width="14" height="12" fill="#450000"/><rect x="1382" y="428" width="12" height="12" fill="#22aa00"/>
<rect class="hd" x="1394" y="369" width="63" height="16"/><text class="h" x="1425" y="380">... ماشين [+]</text>
<rect x="1396" y="385" width="61" height="32" fill="#22aa00"/><text class="m" x="1426" y="405">بترانس</text>
<rect x="1396" y="417" width="20" height="12" fill="#450000"/><rect x="1416" y="417" width="20" height="12" fill="#1a7a00"/><rect x="1436" y="417" width="21" height="12" fill="#7a0000"/>
<rect x="1396" y="429" width="20" height="11" fill="#22aa00"/><rect x="1416" y="429" width="20" height="11" fill="#b00000"/><rect x="1436" y="429" width="10" height="11" fill="#b00000"/><rect x="1446" y="429" width="11" height="11" fill="#22aa00"/>
<rect class="hd" x="1457" y="369" width="50" height="16"/><text class="h" x="1482" y="380">...ساير وا [+]</text>
<rect x="1459" y="385" width="43" height="32" fill="#22aa00"/><text class="m" x="1480" y="405">ولشرق</text>
<rect x="1502" y="385" width="5" height="32" fill="#22aa00"/>
<rect x="1459" y="417" width="16" height="23" fill="#004400"/><rect x="1475" y="417" width="16" height="23" fill="#b00000"/><rect x="1491" y="417" width="16" height="23" fill="#b00000"/>
<rect class="hd" x="1507" y="369" width="47" height="16"/><text class="h" x="1530" y="380">... قند و [+]</text>
<rect x="1509" y="385" width="28" height="28" fill="#b00000"/><text class="m" x="1523" y="403">ق...</text>
<rect x="1537" y="385" width="17" height="28" fill="#b00000"/>
<rect x="1509" y="413" width="16" height="27" fill="#22aa00"/><rect x="1525" y="413" width="15" height="14" fill="#22aa00"/><rect x="1540" y="413" width="14" height="14" fill="#b00000"/><rect x="1525" y="427" width="15" height="13" fill="#1a7a00"/><rect x="1540" y="427" width="14" height="13" fill="#450000"/>
<rect class="hd" x="1311" y="442" width="83" height="16"/><text class="h" x="1352" y="453">هتل و رستوران [+]</text>
<rect x="1313" y="458" width="55" height="47" fill="#1a7a00"/><text class="s" x="1340" y="482">سمگا</text>
<rect x="1368" y="458" width="26" height="33" fill="#7a0000"/><text class="m" x="1381" y="478">گدنا</text>
<rect x="1368" y="491" width="16" height="14" fill="#450000"/><rect x="1384" y="491" width="10" height="14" fill="#450000"/>
<rect class="hd" x="1394" y="442" width="59" height="16"/><text class="h" x="1423" y="453">...استخرا [+]</text>
<rect x="1396" y="458" width="30" height="47" fill="#22aa00"/><text class="m" x="1411" y="484">كربن</text>
<rect x="1426" y="458" width="27" height="18" fill="#22aa00"/><text class="m" x="1439" y="471">ك...</text>
<rect x="1426" y="476" width="27" height="17" fill="#004400"/><rect x="1426" y="493" width="27" height="12" fill="#22aa00"/>
<rect class="hd" x="1453" y="442" width="55" height="16"/><text class="h" x="1480" y="453">...استخراج [+]</text>
<rect x="1455" y="458" width="32" height="22" fill="#7a0000"/><text class="m" x="1471" y="473">كماسه</text>
<rect x="1487" y="458" width="21" height="22" fill="#22aa00"/>
<rect class="hd" x="1508" y="442" width="46" height="16"/><text class="h" x="1531" y="453">...محصو [+]</text>
<rect x="1510" y="458" width="32" height="22" fill="#22aa00"/><text class="m" x="1526" y="473">چكاپا</text>
<rect x="1542" y="458" width="12" height="11" fill="#450000"/><rect x="1542" y="469" width="12" height="11" fill="#22aa00"/>
<rect class="hd" x="1453" y="481" width="55" height="16"/><text class="h" x="1480" y="492">...توليد [+]</text>
<rect x="1455" y="497" width="37" height="25" fill="#22aa00"/><text class="m" x="1473" y="513">ماديرا</text>
<rect x="1492" y="497" width="8" height="25" fill="#004400"/>
<rect class="hd" x="1500" y="481" width="34" height="16"/><text class="h" x="1517" y="492">...سا [+]</text>
<rect x="1501" y="497" width="33" height="25" fill="#450000"/><text class="m" x="1517" y="513">لپارس</text>
<rect class="hd" x="1534" y="481" width="20" height="16"/><text class="h" x="1544" y="492">[+]</text>
<rect x="1535" y="497" width="19" height="25" fill="#22aa00"/>
<rect class="hd" x="1311" y="507" width="83" height="16"/><text class="h" x="1352" y="518">...لاستيك و پلاس [+]</text>
<rect x="1313" y="523" width="30" height="20" fill="#7a0000"/><text class="m" x="1328" y="537">پتاير</text>
<rect x="1343" y="523" width="26" height="20" fill="#7a0000"/><rect x="1369" y="523" width="25" height="10" fill="#7a0000"/><rect x="1369" y="533" width="25" height="10" fill="#22aa00"/>
<rect x="1313" y="543" width="30" height="22" fill="#7a0000"/><rect x="1343" y="543" width="26" height="22" fill="#22aa00"/><text class="m" x="1356" y="558">پلا...</text><rect x="1369" y="543" width="15" height="22" fill="#22aa00"/><rect x="1384" y="543" width="10" height="22" fill="#b00000"/>
<rect class="hd" x="1394" y="505" width="59" height="16"/><text class="h" x="1423" y="516">... كاشي [+]</text>
<rect x="1396" y="521" width="20" height="44" fill="#7a0000"/><rect x="1416" y="521" width="37" height="15" fill="#b00000"/><rect x="1416" y="536" width="22" height="29" fill="#22aa00"/><rect x="1438" y="536" width="15" height="14" fill="#004400"/><rect x="1438" y="550" width="15" height="15" fill="#22aa00"/>
<rect class="hd" x="1453" y="522" width="55" height="16"/><text class="h" x="1480" y="533">...من [+]</text>
<rect x="1455" y="538" width="30" height="27" fill="#b00000"/><text class="m" x="1470" y="555">ن...</text><rect x="1485" y="538" width="18" height="27" fill="#22aa00"/><rect x="1503" y="538" width="5" height="27" fill="#b00000"/>
<rect class="hd" x="1508" y="522" width="16" height="16"/><rect class="hd" x="1524" y="522" width="15" height="16"/><rect class="hd" x="1539" y="522" width="15" height="16"/>
<rect x="1509" y="538" width="15" height="27" fill="#7a0000"/><rect x="1525" y="538" width="14" height="22" fill="#22aa00"/><rect x="1539" y="538" width="15" height="20" fill="#b00000"/>
</svg>
</body></html>
